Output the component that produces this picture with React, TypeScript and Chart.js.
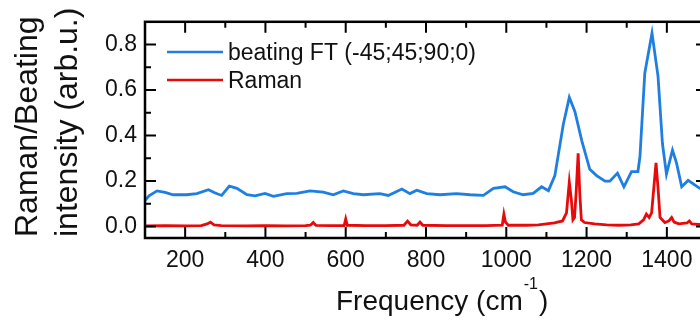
import React, { useEffect, useRef } from "react";
import { Chart, registerables } from "chart.js";

Chart.register(...registerables);

// Beating FT spectrum (blue)
const beatingFreq = [
  100, 110, 130, 150, 170, 204, 229, 258, 275, 291, 310, 329, 354, 374, 399, 420, 453, 478,
  511, 544, 569, 594, 619, 644, 685, 706, 740, 760, 777, 802, 835, 876, 910, 943, 968, 997,
  1017, 1042, 1067, 1088, 1105, 1121, 1142, 1157, 1171, 1188, 1208, 1225, 1246, 1258, 1277,
  1293, 1312, 1328, 1333, 1345, 1363, 1378, 1389, 1399, 1414, 1424, 1437, 1453, 1482, 1500,
];
const beatingVal = [
  0.115, 0.135, 0.157, 0.15, 0.14, 0.14, 0.145, 0.162, 0.148, 0.137, 0.178, 0.168, 0.14, 0.135,
  0.146, 0.133, 0.145, 0.146, 0.157, 0.152, 0.14, 0.157, 0.145, 0.14, 0.145, 0.137, 0.165, 0.145,
  0.16, 0.145, 0.14, 0.145, 0.14, 0.137, 0.168, 0.175, 0.153, 0.14, 0.146, 0.175, 0.158, 0.224,
  0.449, 0.568, 0.505, 0.378, 0.252, 0.224, 0.2, 0.2, 0.235, 0.175, 0.242, 0.242, 0.308, 0.674,
  0.85, 0.66, 0.365, 0.231, 0.336, 0.28, 0.175, 0.203, 0.168, 0.17,
];

// Raman spectrum (red)
const ramanFreq = [
  100, 150, 200, 240, 255, 263, 272, 290, 350, 400, 450, 500, 512, 519, 526, 560, 596, 600, 604,
  650, 700, 745, 754, 762, 778, 785, 792, 850, 900, 950, 990, 994, 998, 1005, 1050, 1080, 1100,
  1120, 1140, 1150, 1157, 1162, 1166, 1170, 1174, 1179, 1183, 1187, 1195, 1220, 1250, 1280, 1310,
  1330, 1342, 1349, 1356, 1362, 1368, 1373, 1378, 1383, 1395, 1405, 1412, 1418, 1430, 1450, 1456,
  1462, 1480, 1500,
];
const ramanVal = [
  0.003, 0.004, 0.003, 0.004, 0.012, 0.02, 0.008, 0.004, 0.003, 0.004, 0.003, 0.004, 0.006, 0.018,
  0.005, 0.004, 0.004, 0.034, 0.006, 0.004, 0.004, 0.006, 0.024, 0.008, 0.006, 0.02, 0.006, 0.004,
  0.004, 0.004, 0.006, 0.055, 0.02, 0.006, 0.006, 0.008, 0.012, 0.016, 0.025, 0.06, 0.196, 0.12,
  0.03, 0.04, 0.15, 0.322, 0.15, 0.03, 0.018, 0.012, 0.008, 0.006, 0.008, 0.012, 0.03, 0.055, 0.04,
  0.06, 0.18, 0.28, 0.17, 0.04, 0.018, 0.025, 0.04, 0.02, 0.012, 0.016, 0.025, 0.012, 0.01, 0.008,
];

const seriesLabels = ["beating FT (-45;45;90;0)", "Raman"];
const seriesColors = ["#1f7fe0", "#e60a0a"];

const xTickValues = [200, 400, 600, 800, 1000, 1200, 1400];
const xMinorValues = [300, 500, 700, 900, 1100, 1300];
const yTickValues = [0, 0.2, 0.4, 0.6, 0.8];
const yMinorValues = [0.1, 0.3, 0.5, 0.7];

const FONT = "'Liberation Sans', Arial, sans-serif";
const TEXT_COLOR = "#111";

const toPoints = (xs: number[], ys: number[]) => xs.map((x, i) => ({ x, y: ys[i] }));

// Frame, inward ticks, legend and axis titles
const decorations = {
  id: "decorations",
  afterDraw(chart: any) {
    const { ctx, chartArea, scales } = chart;
    const { left, right, top, bottom } = chartArea;
    const xs = scales.x;
    const ys = scales.y;
    ctx.save();

    // box
    ctx.strokeStyle = "#000";
    ctx.lineWidth = 2.5;
    ctx.strokeRect(left, top, right - left, bottom - top);

    ctx.lineWidth = 2;
    ctx.beginPath();
    const xTick = (v: number, len: number) => {
      const p = xs.getPixelForValue(v);
      ctx.moveTo(p, bottom);
      ctx.lineTo(p, bottom - len);
      ctx.moveTo(p, top);
      ctx.lineTo(p, top + len);
    };
    const yTick = (v: number, len: number) => {
      const p = ys.getPixelForValue(v);
      ctx.moveTo(left, p);
      ctx.lineTo(left + len, p);
      ctx.moveTo(right, p);
      ctx.lineTo(right - len, p);
    };
    xTickValues.forEach((v) => xTick(v, 11));
    xMinorValues.forEach((v) => xTick(v, 6));
    yTickValues.forEach((v) => yTick(v, 11));
    yMinorValues.forEach((v) => yTick(v, 6));
    ctx.stroke();

    // legend
    const legendY = [52, 80];
    chart.data.datasets.forEach((ds: any, i: number) => {
      ctx.strokeStyle = ds.borderColor;
      ctx.lineWidth = 2.5;
      ctx.beginPath();
      ctx.moveTo(167, legendY[i]);
      ctx.lineTo(223, legendY[i]);
      ctx.stroke();
      ctx.fillStyle = TEXT_COLOR;
      ctx.font = `23px ${FONT}`;
      ctx.textAlign = "left";
      ctx.textBaseline = "alphabetic";
      ctx.fillText(ds.label, 228, legendY[i] + 8);
    });

    // x axis title with superscript
    ctx.fillStyle = TEXT_COLOR;
    ctx.textBaseline = "alphabetic";
    ctx.textAlign = "left";
    ctx.font = `28px ${FONT}`;
    const main = "Frequency (cm";
    let tx = 336;
    ctx.fillText(main, tx, 310);
    tx += ctx.measureText(main).width + 1;
    ctx.font = `16px ${FONT}`;
    ctx.fillText("-1", tx, 289);
    tx += ctx.measureText("-1").width + 1;
    ctx.font = `28px ${FONT}`;
    ctx.fillText(")", tx, 310);

    // y axis title, two lines
    ctx.font = `32px ${FONT}`;
    const lines = [
      { text: "Raman/Beating", x: 37 },
      { text: "intensity (arb.u.)", x: 77 },
    ];
    lines.forEach((l) => {
      ctx.save();
      ctx.translate(l.x, 237);
      ctx.rotate(-Math.PI / 2);
      ctx.fillText(l.text, 0, 0);
      ctx.restore();
    });

    ctx.restore();
  },
};

export default function App() {
  const canvasRef = useRef<HTMLCanvasElement | null>(null);

  useEffect(() => {
    if (!canvasRef.current) return;
    const chart = new Chart(canvasRef.current, {
      type: "line",
      data: {
        datasets: [
          {
            label: seriesLabels[0],
            data: toPoints(beatingFreq, beatingVal),
            borderColor: seriesColors[0],
            borderWidth: 2.8,
            pointRadius: 0,
            tension: 0,
          },
          {
            label: seriesLabels[1],
            data: toPoints(ramanFreq, ramanVal),
            borderColor: seriesColors[1],
            borderWidth: 2.8,
            pointRadius: 0,
            tension: 0,
          },
        ],
      },
      options: {
        animation: false,
        responsive: false,
        devicePixelRatio: 1,
        layout: { padding: { left: 0, top: 13, right: 8, bottom: 0 } },
        plugins: {
          legend: { display: false },
          tooltip: { enabled: false },
        },
        scales: {
          x: {
            type: "linear",
            min: 100,
            max: 1500,
            grid: { display: false, drawTicks: false, tickLength: 0 },
            border: { display: false },
            afterBuildTicks: (s: any) => {
              s.ticks = xTickValues.map((value) => ({ value }));
            },
            afterFit: (s: any) => {
              s.height = 87;
            },
            ticks: {
              padding: 9,
              color: TEXT_COLOR,
              font: { family: FONT, size: 23 },
              maxRotation: 0,
              callback: (v: any) => String(v),
            },
          },
          y: {
            type: "linear",
            min: -0.05,
            max: 0.9,
            grid: { display: false, drawTicks: false, tickLength: 0 },
            border: { display: false },
            afterBuildTicks: (s: any) => {
              s.ticks = yTickValues.map((value) => ({ value }));
            },
            afterFit: (s: any) => {
              s.width = 145;
            },
            ticks: {
              padding: 8,
              color: TEXT_COLOR,
              font: { family: FONT, size: 23 },
              callback: (v: any) => Number(v).toFixed(1),
            },
          },
        },
      },
      plugins: [decorations],
    });
    return () => chart.destroy();
  }, []);

  return (
    <div
      style={{
        position: "fixed",
        left: 0,
        top: 0,
        width: 700,
        height: 325,
        overflow: "hidden",
        background: "#fff",
      }}
    >
      <canvas
        ref={canvasRef}
        width={715}
        height={325}
        style={{ width: 715, height: 325, display: "block" }}
      />
    </div>
  );
}
